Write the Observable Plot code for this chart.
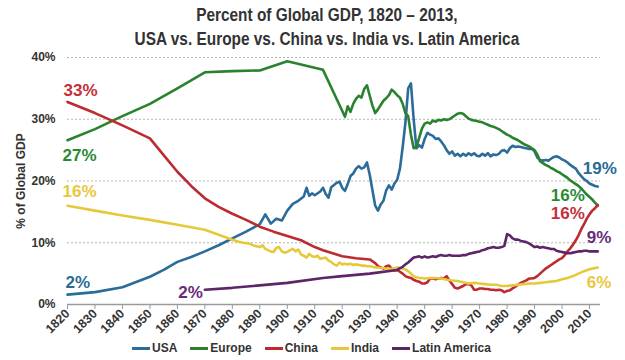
<!DOCTYPE html>
<html><head><meta charset="utf-8">
<script src="https://cdn.jsdelivr.net/npm/d3@7"></script>
<script src="https://cdn.jsdelivr.net/npm/@observablehq/plot@0.6"></script>
<style>
body{margin:0;background:#fff;font-family:"Liberation Sans",Arial,sans-serif;}
#wrap{position:relative;width:625px;height:360px;overflow:hidden;background:#fff}
#title{position:absolute;top:3px;left:29px;width:596px;text-align:center;font-size:18px;font-weight:bold;line-height:24px;color:#333;}
#title div span{display:inline-block;transform:scaleX(0.855);white-space:nowrap}
#chart{position:absolute;top:50px;left:0}
#legend{position:absolute;top:340px;left:132px;height:16px;display:flex;align-items:center;font-size:12px;font-weight:bold;color:#333;white-space:nowrap}
#legend .item{display:flex;align-items:center;margin-right:13px}
#legend .sw{display:inline-block;width:18px;height:3px;margin-right:2px}
</style></head>
<body>
<div id="wrap">
  <div id="title"></div>
  <div id="chart"></div>
  <div id="legend"></div>
</div>
<script>
const titleLines = ["Percent of Global GDP, 1820 \u2013 2013,", "USA vs. Europe vs. China vs. India vs. Latin America"];
const seriesNames = ["USA", "Europe", "China", "India", "Latin America"];
const seriesColors = ["#2b6c99", "#2a822e", "#bd2a30", "#e6c93a", "#5e2468"];
const labelColors = ["#2b6a96", "#2a8a34", "#c4303a", "#e8c840", "#6a2a7a"];
const startLabels = ["2%", "27%", "33%", "16%", "2%"];
const endLabels = ["19%", "16%", "16%", "6%", "9%"];
const xTicks = [1820,1830,1840,1850,1860,1870,1880,1890,1900,1910,1920,1930,1940,1950,1960,1970,1980,1990,2000,2010];
const yTicks = [0, 10, 20, 30, 40];

const usa = [[1820,1.6],[1830,2.0],[1840,2.8],[1850,4.5],[1855,5.6],[1860,6.9],[1865,7.7],[1870,8.6],[1875,9.6],[1880,10.7],[1885,11.8],[1890,13.0],[1892,14.6],[1894,13.1],[1896,13.9],[1898,13.6],[1900,15.2],[1902,16.3],[1904,16.8],[1906,17.5],[1907,18.9],[1908,17.6],[1909,18.0],[1910,17.7],[1912,18.3],[1913,18.9],[1914,17.9],[1915,17.3],[1916,19.0],[1918,19.7],[1919,19.9],[1920,18.9],[1921,18.4],[1922,19.5],[1923,20.8],[1924,21.2],[1925,22.0],[1926,22.4],[1927,22.0],[1928,22.2],[1929,23.0],[1930,21.0],[1931,18.5],[1932,16.0],[1933,15.2],[1934,16.2],[1935,16.8],[1936,18.5],[1937,19.3],[1938,18.6],[1939,19.6],[1940,20.2],[1941,22.0],[1942,25.5],[1943,29.5],[1944,35.0],[1945,35.8],[1946,30.0],[1947,25.3],[1948,25.8],[1949,25.4],[1950,26.8],[1951,27.8],[1952,27.5],[1953,27.3],[1954,26.8],[1955,26.9],[1956,26.4],[1957,25.8],[1958,25.0],[1959,24.4],[1960,24.8],[1961,24.1],[1962,24.4],[1963,24.0],[1964,24.4],[1965,24.1],[1966,24.5],[1967,24.2],[1968,24.5],[1969,24.1],[1970,24.0],[1971,24.4],[1972,24.1],[1973,24.5],[1974,24.0],[1975,24.3],[1976,24.2],[1977,24.4],[1978,24.9],[1979,25.0],[1980,24.6],[1981,25.3],[1982,25.7],[1983,25.5],[1984,25.6],[1985,25.5],[1986,25.4],[1987,25.3],[1988,25.2],[1989,25.2],[1990,24.8],[1991,23.8],[1992,23.4],[1993,23.3],[1994,23.4],[1995,23.3],[1996,23.6],[1997,23.9],[1998,24.0],[1999,23.8],[2000,23.5],[2001,23.3],[2002,23.0],[2003,22.6],[2004,22.3],[2005,22.0],[2006,21.3],[2007,20.8],[2008,20.3],[2009,20.0],[2010,19.6],[2011,19.4],[2012,19.2],[2013,19.1]];

const europe = [[1820,26.6],[1830,28.4],[1840,30.5],[1850,32.5],[1860,35.0],[1870,37.6],[1880,37.8],[1890,37.9],[1900,39.4],[1913,38.0],[1921,30.4],[1922,32.1],[1923,31.2],[1924,32.5],[1925,33.3],[1926,33.8],[1927,33.5],[1928,34.9],[1929,35.5],[1930,33.8],[1931,32.2],[1932,31.0],[1933,31.6],[1934,32.3],[1935,33.0],[1936,33.4],[1937,33.9],[1938,34.8],[1939,34.4],[1940,33.9],[1941,33.5],[1942,32.5],[1943,31.0],[1944,30.5],[1945,27.5],[1946,25.3],[1947,25.5],[1948,27.0],[1949,28.5],[1950,29.3],[1951,29.5],[1952,29.3],[1953,29.8],[1954,29.6],[1955,29.9],[1956,29.8],[1957,30.0],[1958,29.9],[1959,30.0],[1960,30.3],[1961,30.6],[1962,30.9],[1963,31.0],[1964,30.9],[1965,30.5],[1966,30.1],[1967,29.9],[1968,29.8],[1969,29.7],[1970,29.6],[1971,29.5],[1972,29.3],[1973,29.1],[1974,28.9],[1975,28.8],[1976,28.6],[1977,28.4],[1978,28.1],[1979,27.8],[1980,27.5],[1981,27.3],[1982,27.0],[1983,26.8],[1984,26.6],[1985,26.3],[1986,26.0],[1987,25.8],[1988,25.6],[1989,25.3],[1990,25.0],[1991,24.3],[1992,23.2],[1993,22.9],[1994,22.6],[1995,22.4],[1996,22.1],[1997,21.9],[1998,21.6],[1999,21.4],[2000,21.1],[2001,20.8],[2002,20.5],[2003,20.1],[2004,19.8],[2005,19.5],[2006,19.2],[2007,18.8],[2008,18.3],[2009,17.8],[2010,17.4],[2011,17.0],[2012,16.5],[2013,16.0]];

const china = [[1820,32.8],[1830,31.0],[1840,29.0],[1850,26.9],[1855,24.2],[1860,21.5],[1865,19.2],[1870,17.2],[1875,15.8],[1880,14.7],[1885,13.7],[1890,12.6],[1895,11.8],[1900,11.1],[1905,10.4],[1910,9.3],[1913,8.8],[1920,7.8],[1925,7.5],[1930,7.3],[1932,6.7],[1933,6.2],[1935,5.8],[1936,6.2],[1937,6.3],[1938,5.8],[1939,5.5],[1940,5.6],[1941,5.3],[1942,5.0],[1943,4.6],[1944,4.4],[1945,4.3],[1946,4.0],[1947,3.8],[1948,3.7],[1949,3.4],[1950,3.4],[1951,3.6],[1952,4.2],[1953,4.2],[1954,4.1],[1955,4.2],[1956,4.3],[1957,4.2],[1958,4.6],[1959,3.9],[1960,3.3],[1961,2.7],[1962,2.6],[1963,2.8],[1964,3.0],[1965,3.3],[1966,3.3],[1967,3.1],[1968,2.4],[1969,2.4],[1970,2.6],[1971,2.6],[1972,2.5],[1973,2.5],[1974,2.4],[1975,2.4],[1976,2.3],[1977,2.4],[1978,2.3],[1979,2.0],[1980,2.2],[1981,2.3],[1982,2.6],[1983,2.9],[1984,3.2],[1985,3.5],[1986,3.7],[1987,3.9],[1988,4.2],[1989,4.2],[1990,4.3],[1991,4.6],[1992,5.0],[1993,5.4],[1994,5.8],[1995,6.1],[1996,6.4],[1997,6.7],[1998,7.0],[1999,7.3],[2000,7.5],[2001,8.0],[2002,8.6],[2003,9.1],[2004,9.7],[2005,10.4],[2006,11.2],[2007,12.2],[2008,13.0],[2009,13.9],[2010,14.6],[2011,15.2],[2012,15.6],[2013,16.1]];

const india = [[1820,16.0],[1830,15.2],[1840,14.4],[1850,13.7],[1860,12.9],[1870,12.1],[1875,11.3],[1880,10.5],[1882,10.2],[1884,10.0],[1886,9.9],[1888,9.5],[1890,9.3],[1891,9.6],[1892,9.0],[1894,8.6],[1895,8.5],[1896,9.2],[1897,9.3],[1898,8.6],[1899,8.4],[1900,8.5],[1901,8.8],[1902,9.0],[1903,8.6],[1904,8.9],[1905,8.1],[1906,7.9],[1907,7.6],[1908,8.2],[1909,7.8],[1910,7.7],[1911,7.9],[1912,7.4],[1913,7.5],[1914,7.6],[1915,7.1],[1916,6.9],[1917,6.5],[1918,6.3],[1919,6.8],[1920,6.5],[1921,6.6],[1922,6.5],[1923,6.6],[1924,6.4],[1925,6.5],[1926,6.4],[1927,6.3],[1928,6.3],[1929,6.2],[1930,6.2],[1931,6.1],[1932,6.0],[1933,6.0],[1934,5.9],[1935,5.9],[1936,5.8],[1937,5.8],[1938,5.8],[1939,5.9],[1940,6.0],[1941,5.9],[1942,5.8],[1943,5.7],[1944,5.4],[1945,5.0],[1946,4.6],[1947,4.4],[1948,4.3],[1949,4.3],[1950,4.2],[1952,4.3],[1954,4.3],[1956,4.2],[1958,4.0],[1960,3.9],[1962,3.8],[1964,3.6],[1966,3.4],[1968,3.5],[1970,3.4],[1972,3.3],[1974,3.2],[1976,3.2],[1978,3.0],[1980,3.0],[1982,3.1],[1984,3.2],[1986,3.3],[1988,3.4],[1990,3.4],[1992,3.5],[1994,3.6],[1996,3.7],[1998,3.8],[2000,4.1],[2002,4.3],[2004,4.6],[2006,5.0],[2008,5.4],[2010,5.7],[2012,5.9],[2013,6.0]];

const latinAmerica = [[1870,2.4],[1880,2.7],[1890,3.1],[1900,3.5],[1913,4.3],[1920,4.6],[1930,5.0],[1940,5.6],[1941,5.9],[1942,6.1],[1943,6.5],[1944,6.8],[1945,7.2],[1946,7.6],[1947,7.7],[1948,7.8],[1949,7.6],[1950,7.8],[1951,7.6],[1952,7.7],[1953,7.8],[1954,7.7],[1955,7.9],[1956,8.0],[1957,7.9],[1958,7.9],[1959,8.0],[1960,7.9],[1961,7.9],[1962,7.9],[1963,7.9],[1964,8.0],[1965,8.0],[1966,8.2],[1967,8.3],[1968,8.4],[1969,8.5],[1970,8.6],[1971,8.8],[1972,8.9],[1973,9.1],[1974,9.2],[1975,9.3],[1976,9.2],[1977,9.2],[1978,9.3],[1979,9.5],[1980,11.4],[1981,11.2],[1982,10.7],[1983,10.5],[1984,10.5],[1985,10.3],[1986,10.2],[1987,10.1],[1988,9.9],[1989,9.6],[1990,9.3],[1991,9.4],[1992,9.2],[1993,9.3],[1994,9.2],[1995,9.1],[1996,9.0],[1997,9.0],[1998,8.7],[1999,8.6],[2000,8.5],[2001,8.4],[2002,8.3],[2003,8.3],[2004,8.4],[2005,8.5],[2006,8.6],[2007,8.6],[2008,8.7],[2009,8.7],[2010,8.6],[2011,8.6],[2012,8.6],[2013,8.6]];

const allSeries = [usa, europe, china, india, latinAmerica];

// label offsets (style only): [dx, dy, anchor]
const startStyle = [[-2,-12,"start"],[-5,15,"start"],[-4,-11,"start"],[-5,-14,"start"],[-2,3,"end"]];
const endStyle = [[-15,-18,"start"],[-13,-10,"end"],[-13,8,"end"],[-11,15,"start"],[-11,-14,"start"]];

// title
const t = document.getElementById("title");
titleLines.forEach(s => { const d = document.createElement("div"); const sp = document.createElement("span"); sp.textContent = s; d.appendChild(sp); t.appendChild(d); });

const marks = [
  Plot.ruleY([10,20,30,40], {stroke: "#b5b5b5", strokeDasharray: "2,2", strokeWidth: 1}),
  Plot.axisX({ticks: xTicks, tickRotate: -45, tickSize: 5, tickPadding: 2, tickFormat: d => String(d), stroke: "#999", fill: "#333", label: null, fontSize: 12.5, fontWeight: "bold"}),
  Plot.axisY({ticks: yTicks, tickSize: 0, tickPadding: 12, tickFormat: d => d + "%", fill: "#333", fontSize: 12, fontWeight: "bold", label: "% of Global GDP", labelAnchor: "center", labelArrow: "none", labelOffset: 51}),
  Plot.ruleY([0], {stroke: "#9a9a9a", strokeWidth: 1.5})
];
allSeries.forEach((s, i) => {
  marks.push(Plot.line(s, {x: d => d[0], y: d => d[1], stroke: seriesColors[i], strokeWidth: 2.6, strokeLinejoin: "round"}));
});
allSeries.forEach((s, i) => {
  const first = s[0], last = s[s.length - 1];
  marks.push(Plot.text([first], {x: d => d[0], y: d => d[1], text: () => startLabels[i], dx: startStyle[i][0], dy: startStyle[i][1], textAnchor: startStyle[i][2], fill: labelColors[i], fontSize: 17, fontWeight: "bold"}));
  marks.push(Plot.text([last], {x: d => d[0], y: d => d[1], text: () => endLabels[i], dx: endStyle[i][0], dy: endStyle[i][1], textAnchor: endStyle[i][2], fill: labelColors[i], fontSize: 17, fontWeight: "bold"}));
});

const chart = Plot.plot({
  width: 625, height: 290,
  marginTop: 7, marginBottom: 36, marginLeft: 67, marginRight: 25,
  style: {fontFamily: "'Liberation Sans', Arial, sans-serif", fontSize: "12px", fontWeight: "bold", color: "#333", background: "#fff"},
  x: {domain: [1820, 2014]},
  y: {domain: [0, 40]},
  marks
});
document.getElementById("chart").appendChild(chart);

// legend
const lg = document.getElementById("legend");
seriesNames.forEach((n, i) => {
  const it = document.createElement("div"); it.className = "item";
  const sw = document.createElement("span"); sw.className = "sw"; sw.style.background = seriesColors[i];
  const tx = document.createElement("span"); tx.textContent = n;
  it.appendChild(sw); it.appendChild(tx); lg.appendChild(it);
});
</script>
</body></html>
